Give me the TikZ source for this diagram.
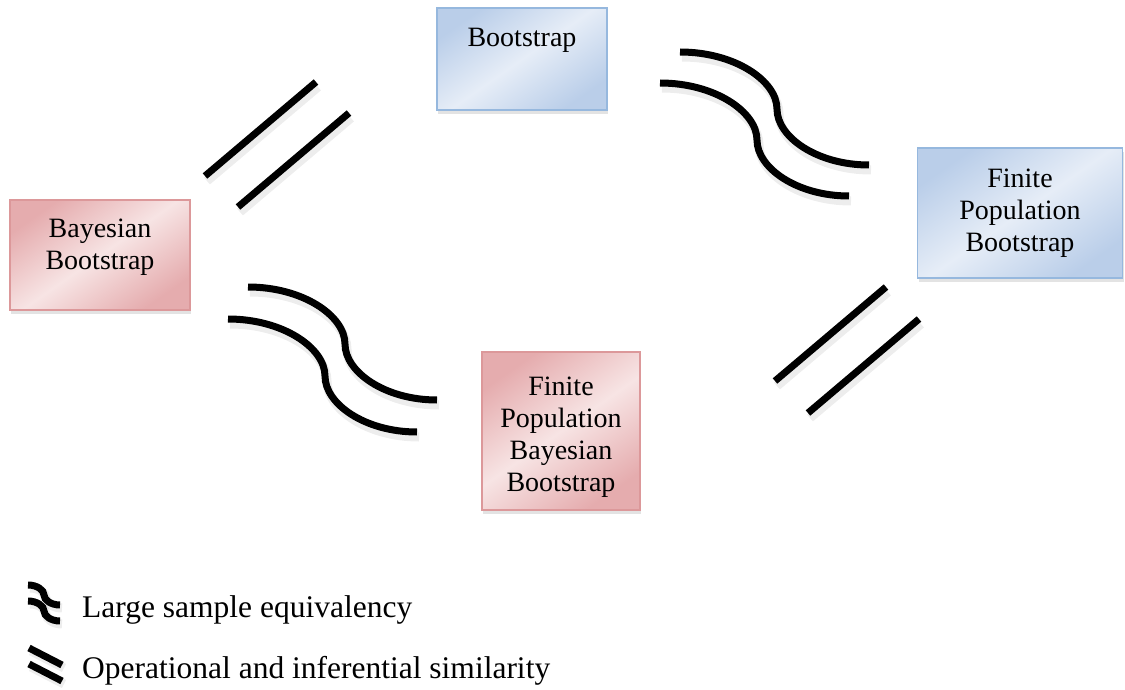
\documentclass[tikz,border=0pt]{standalone}
\usepackage{fontspec}
\setmainfont{Liberation Serif}
\usetikzlibrary{shadows}
\definecolor{bootblue}{RGB}{150, 184, 222}
\definecolor{bootfill}{RGB}{186, 206, 233}
\definecolor{bootlight}{RGB}{230, 237, 247}
\definecolor{bayespink}{RGB}{220, 152, 154}
\definecolor{bayesfill}{RGB}{229, 172, 174}
\definecolor{bayeslight}{RGB}{247, 228, 228}
\tikzset{
    methodbox/.style={rectangle, inner sep=0pt, line width=1.5pt, align=center,
        font=\fontsize{28}{32}\selectfont,
        drop shadow={opacity=0.22, shadow xshift=1pt, shadow yshift=-4pt}},
    bluebox/.style={methodbox, draw=bootblue, top color=bootfill, bottom color=bootfill,
        middle color=bootlight, shading angle=35},
    pinkbox/.style={methodbox, draw=bayespink, top color=bayesfill, bottom color=bayesfill,
        middle color=bayeslight, shading angle=35},
    relline/.style={line width=7pt, black},
    relshadow/.style={line width=9pt, black, opacity=0.07},
    legendtext/.style={anchor=base west, inner sep=0pt, font=\fontsize{31.5}{36}\selectfont}
}
\begin{document}
\begin{tikzpicture}[x=1pt,y=-1pt]
        \useasboundingbox (0,0) rectangle (1125,690);

        % Methods
        \node[bluebox, minimum width=170pt, minimum height=102pt] (boot) at (522,59) {};
        \node[font=\fontsize{28}{32}\selectfont, anchor=base] (boottext) at (522,47) {Bootstrap};
        \node[pinkbox, minimum width=180pt, minimum height=110pt] (bayes) at (100,255) {Bayesian\\Bootstrap\rule[-22pt]{0pt}{0pt}};
        \node[bluebox, minimum width=205pt, minimum height=130pt] (fpboot) at (1020,213) {Finite\\Population\\Bootstrap};
        \node[pinkbox, minimum width=158pt, minimum height=158pt] (fpbb) at (561,431) {\rule{0pt}{30pt}Finite\\Population\\Bayesian\\Bootstrap};

        % Operational and inferential similarity
        \foreach \x/\y in {205/176, 238/207, 775/381, 808/413}
        {
            \draw[relshadow] (\x+2,\y+5) -- ++(111,-94);
            \draw[relline] (\x,\y) -- ++(111,-94);
        }

        % Large sample equivalency
        \foreach \x/\y in {680/52, 660/83, 248/287, 228/319}
        {
            \draw[relshadow] (\x+2,\y+5) .. controls +(55,0) and +(0,-28) .. ++(97,57)
                .. controls +(0,28) and +(-52,0) .. ++(92,56);
            \draw[relline] (\x,\y) .. controls +(55,0) and +(0,-28) .. ++(97,57)
                .. controls +(0,28) and +(-52,0) .. ++(92,56);
        }

        % Legend
        \foreach \y in {585,601}
        {
            \draw[relshadow] (30,\y+3) .. controls +(9,0) and +(0,-5) .. ++(16,10)
                .. controls +(0,5) and +(-9,0) .. ++(16,10);
            \draw[relline] (28,\y) .. controls +(9,0) and +(0,-5) .. ++(16,10)
                .. controls +(0,5) and +(-9,0) .. ++(16,10);
        }
        \foreach \y in {648,664}
        {
            \draw[relshadow] (31,\y+3) -- ++(33,17);
            \draw[relline] (29,\y) -- ++(33,17);
        }
        \node[legendtext] (leglarge) at (82,617) {Large sample equivalency};
        \node[legendtext] (legop) at (82,678) {Operational and inferential similarity};
    \end{tikzpicture}
\end{document}
